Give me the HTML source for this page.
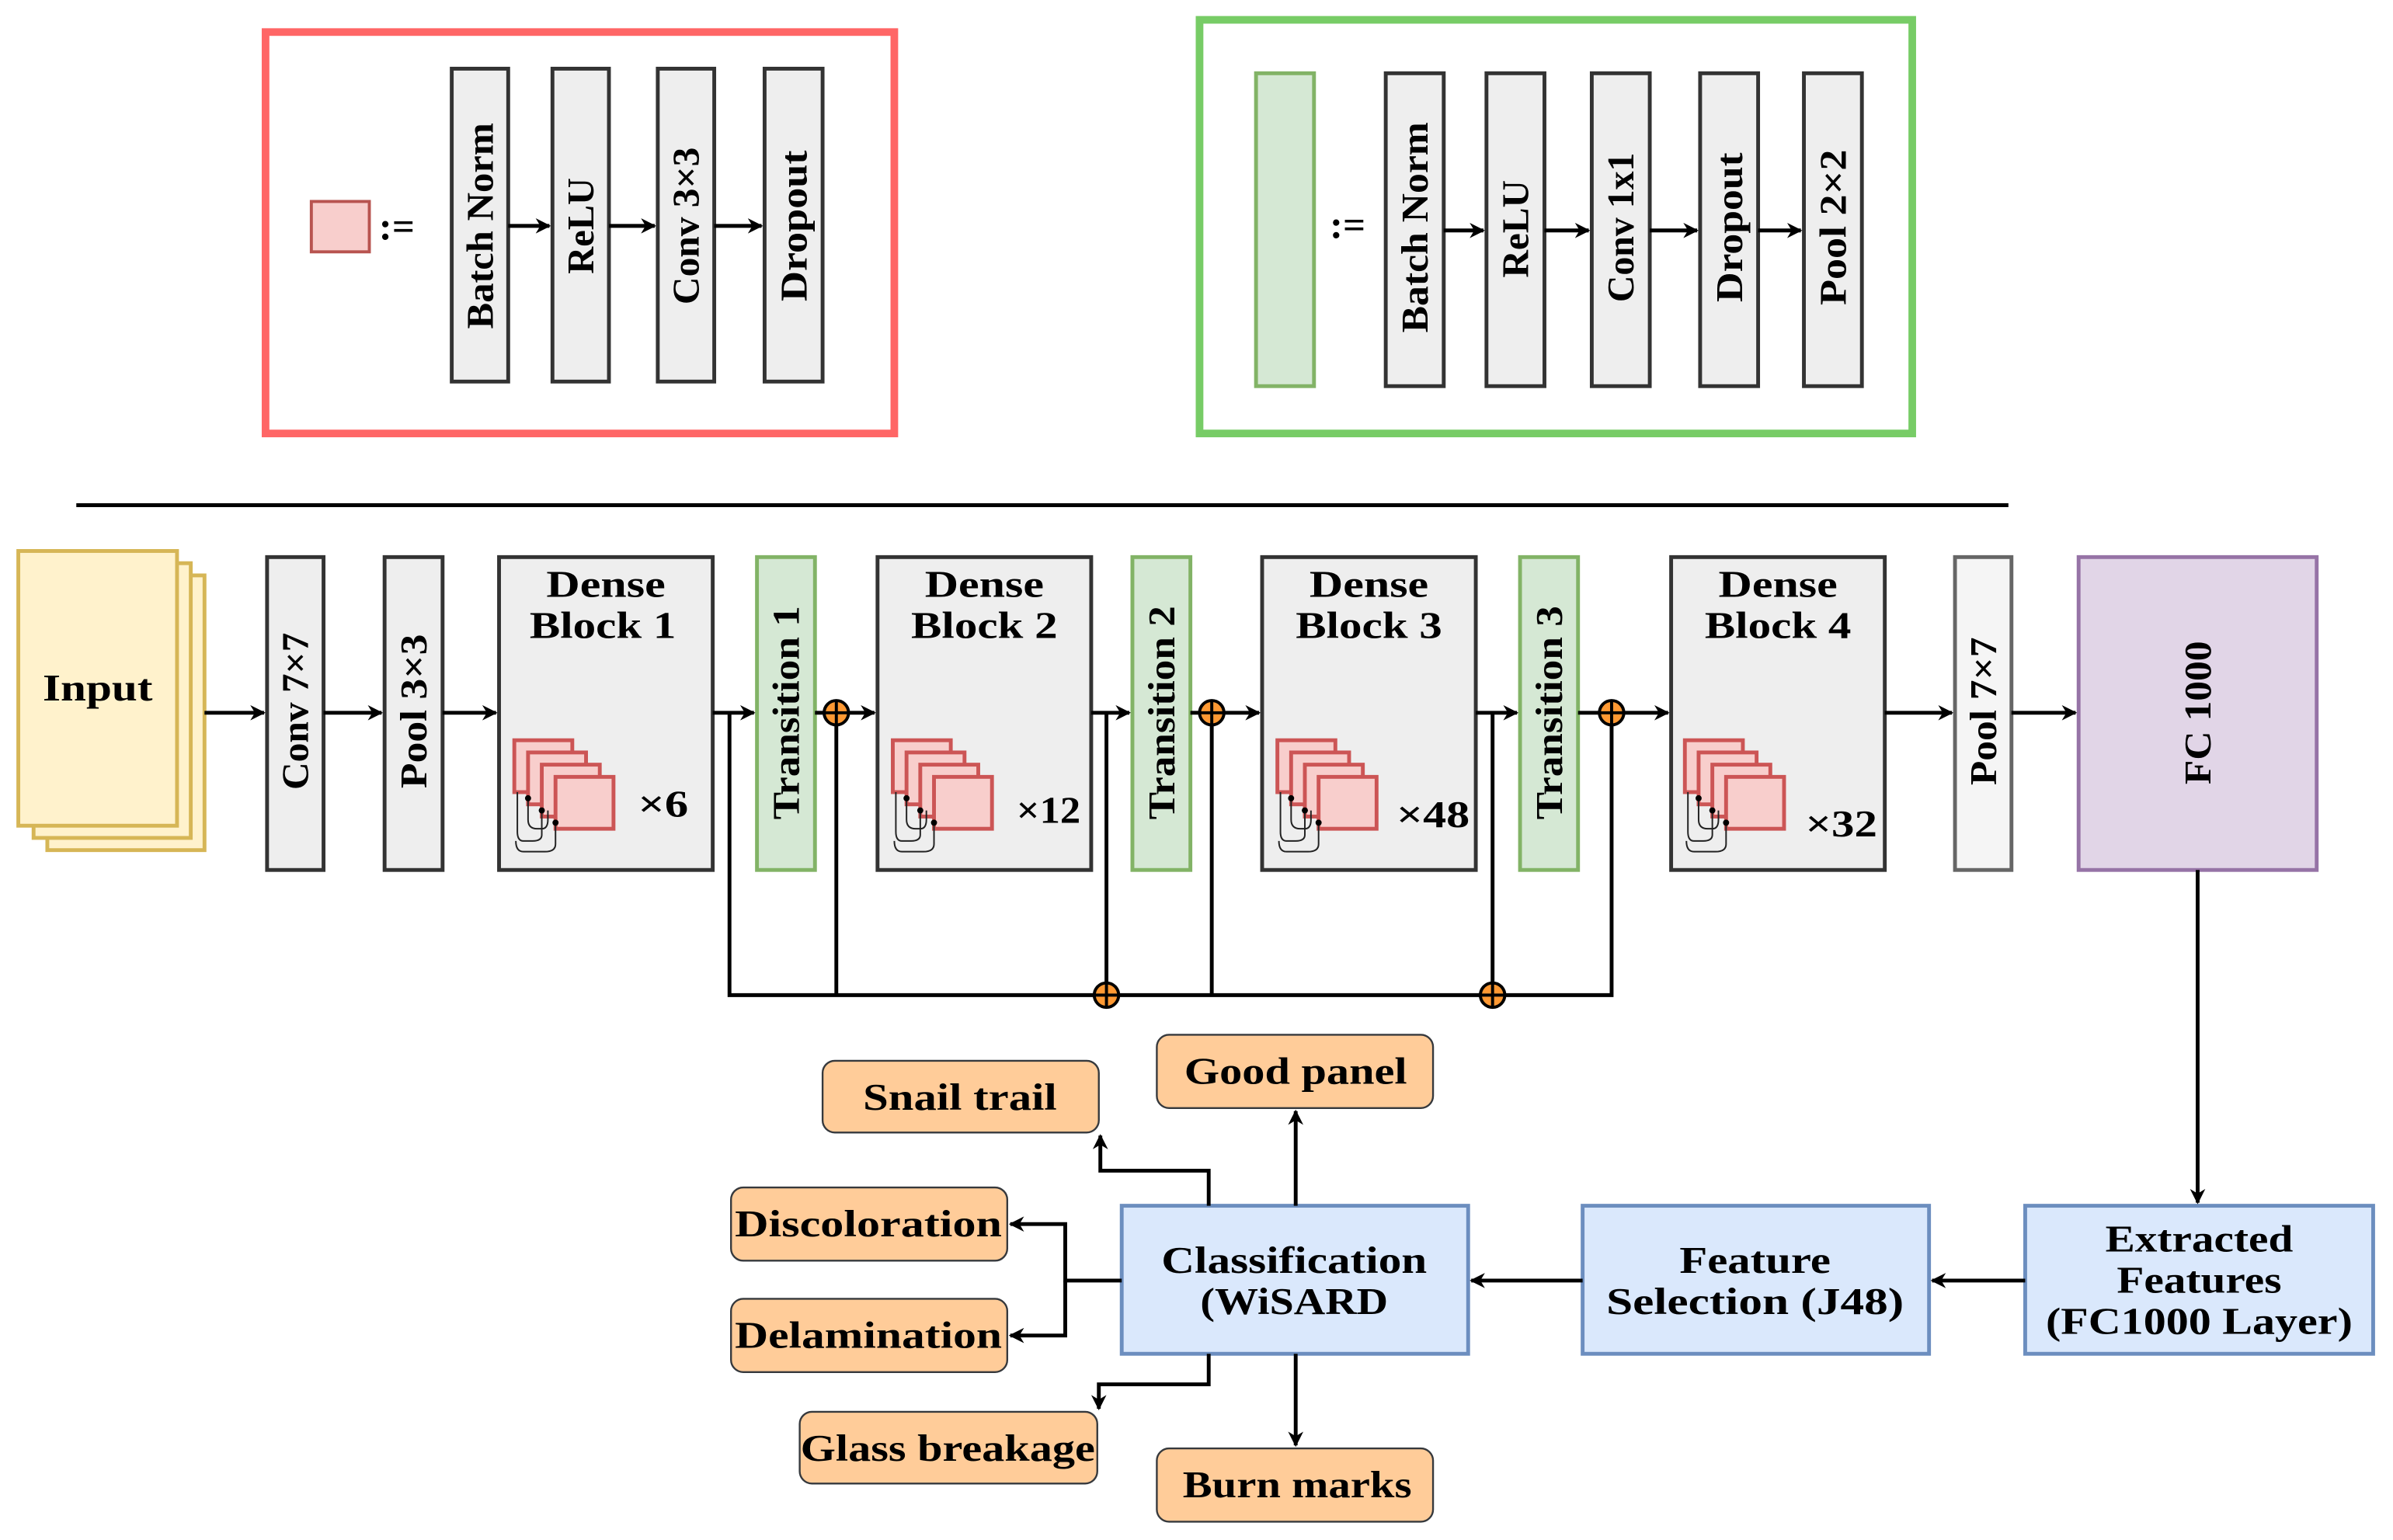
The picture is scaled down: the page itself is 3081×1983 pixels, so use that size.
<!DOCTYPE html>
<html><head><meta charset="utf-8"><style>
html,body{margin:0;padding:0;background:#fff;}
svg{display:block;}
text{font-family:"Liberation Serif",serif;font-weight:bold;fill:#000;}
</style></head><body>
<svg width="3081" height="1983" viewBox="0 0 1568 1009" preserveAspectRatio="none" xmlns="http://www.w3.org/2000/svg">
<defs>
<marker id="a" markerWidth="10" markerHeight="10" refX="9" refY="5" orient="auto" markerUnits="userSpaceOnUse"><path d="M0,0 L10,5 L0,10 L3,5 Z" fill="#000"/></marker>
<g id="plus"><circle r="8" fill="#ff9933" stroke="#000" stroke-width="2"/><path d="M-8,0H8M0,-8V8" stroke="#000" stroke-width="2"/></g>
<g id="stack">
<rect x="0" y="0" width="38" height="34" fill="#f8cecc" stroke="#cc5555" stroke-width="2.5"/>
<rect x="9" y="8" width="38" height="34" fill="#f8cecc" stroke="#cc5555" stroke-width="2.5"/>
<rect x="18" y="16" width="38" height="34" fill="#f8cecc" stroke="#cc5555" stroke-width="2.5"/>
<rect x="27" y="24" width="38" height="34" fill="#f8cecc" stroke="#cc5555" stroke-width="2.5"/>
<path d="M9,38 V52 Q9,58 15,58 H18 Q22,58 22,52 V46 M18,46 V62 Q18,66 12,66 H6 Q2,66 2,60 V34 M27,54 V68 Q27,73 20,73 H6 Q1,73 1,66" fill="none" stroke="#222" stroke-width="1"/>
<circle cx="9" cy="38" r="2" fill="#000"/><circle cx="18" cy="46" r="2" fill="#000"/><circle cx="27" cy="54" r="2" fill="#000"/>
</g>
</defs>
<g stroke-linejoin="miter">
<rect x="174" y="21" width="412" height="263" fill="none" stroke="#ff6666" stroke-width="5"/>
<rect x="204" y="132" width="38" height="33" fill="#f8cecc" stroke="#b85450" stroke-width="2"/>
<text x="260" y="157" font-size="26" text-anchor="middle">:=</text>
<g fill="#eeeeee" stroke="#333" stroke-width="2.5">
<rect x="296" y="45" width="37" height="205"/><rect x="362" y="45" width="37" height="205"/>
<rect x="431" y="45" width="37" height="205"/><rect x="501" y="45" width="38" height="205"/>
</g>
<g stroke="#000" stroke-width="2.5" marker-end="url(#a)">
<line x1="333" y1="148" x2="360" y2="148"/><line x1="399" y1="148" x2="429" y2="148"/><line x1="468" y1="148" x2="499" y2="148"/>
</g>
<g font-size="25" text-anchor="middle" dominant-baseline="central">
<text transform="translate(314.5,148) rotate(-90)" textLength="135" lengthAdjust="spacingAndGlyphs">Batch Norm</text>
<text transform="translate(380.5,148) rotate(-90)" textLength="63" lengthAdjust="spacingAndGlyphs">ReLU</text>
<text transform="translate(449.5,148) rotate(-90)" textLength="103" lengthAdjust="spacingAndGlyphs">Conv 3×3</text>
<text transform="translate(520,148) rotate(-90)" textLength="99" lengthAdjust="spacingAndGlyphs">Dropout</text>
</g>
<rect x="786" y="13" width="467" height="271" fill="none" stroke="#77cc66" stroke-width="5"/>
<rect x="823" y="48" width="38" height="205" fill="#d5e8d4" stroke="#82b366" stroke-width="2.5"/>
<text x="883" y="156" font-size="26" text-anchor="middle">:=</text>
<g fill="#eeeeee" stroke="#333" stroke-width="2.5">
<rect x="908" y="48" width="38" height="205"/><rect x="974" y="48" width="38" height="205"/>
<rect x="1043" y="48" width="38" height="205"/><rect x="1114" y="48" width="38" height="205"/>
<rect x="1182" y="48" width="38" height="205"/>
</g>
<g stroke="#000" stroke-width="2.5" marker-end="url(#a)">
<line x1="946" y1="151" x2="972" y2="151"/><line x1="1012" y1="151" x2="1041" y2="151"/>
<line x1="1081" y1="151" x2="1112" y2="151"/><line x1="1152" y1="151" x2="1180" y2="151"/>
</g>
<g font-size="25" text-anchor="middle" dominant-baseline="central">
<text transform="translate(927,149) rotate(-90)" textLength="138" lengthAdjust="spacingAndGlyphs">Batch Norm</text>
<text transform="translate(993,150) rotate(-90)" textLength="64" lengthAdjust="spacingAndGlyphs">ReLU</text>
<text transform="translate(1062,149) rotate(-90)" textLength="98" lengthAdjust="spacingAndGlyphs">Conv 1x1</text>
<text transform="translate(1133,149) rotate(-90)" textLength="98" lengthAdjust="spacingAndGlyphs">Dropout</text>
<text transform="translate(1201,149) rotate(-90)" textLength="102" lengthAdjust="spacingAndGlyphs">Pool 2×2</text>
</g>
<line x1="50" y1="331" x2="1316" y2="331" stroke="#000" stroke-width="2.5"/>

<g fill="#fff2cc" stroke="#d6b656" stroke-width="2.5">
<rect x="31" y="377" width="103" height="180"/><rect x="22" y="369" width="103" height="180"/><rect x="12" y="361" width="104" height="180"/>
</g>
<text x="64" y="459" font-size="25" text-anchor="middle" textLength="72" lengthAdjust="spacingAndGlyphs">Input</text>

<g fill="#eeeeee" stroke="#333" stroke-width="2.5">
<rect x="175" y="365" width="37" height="205"/><rect x="252" y="365" width="38" height="205"/>
<rect x="327" y="365" width="140" height="205"/><rect x="575" y="365" width="140" height="205"/>
<rect x="827" y="365" width="140" height="205"/><rect x="1095" y="365" width="140" height="205"/>
</g>
<g fill="#d5e8d4" stroke="#82b366" stroke-width="2.5">
<rect x="496" y="365" width="38" height="205"/><rect x="742" y="365" width="38" height="205"/><rect x="996" y="365" width="38" height="205"/>
</g>
<rect x="1281" y="365" width="37" height="205" fill="#f5f5f5" stroke="#666" stroke-width="2.5"/>
<rect x="1362" y="365" width="156" height="205" fill="#e1d5e7" stroke="#9673a6" stroke-width="2.5"/>

<g font-size="25" text-anchor="middle" dominant-baseline="central">
<text transform="translate(193.5,466) rotate(-90)" textLength="103" lengthAdjust="spacingAndGlyphs">Conv 7×7</text>
<text transform="translate(271,466) rotate(-90)" textLength="101" lengthAdjust="spacingAndGlyphs">Pool 3×3</text>
<text transform="translate(515,467) rotate(-90)" textLength="140" lengthAdjust="spacingAndGlyphs">Transition 1</text>
<text transform="translate(761,467) rotate(-90)" textLength="140" lengthAdjust="spacingAndGlyphs">Transition 2</text>
<text transform="translate(1015,467) rotate(-90)" textLength="140" lengthAdjust="spacingAndGlyphs">Transition 3</text>
<text transform="translate(1299.5,466) rotate(-90)" textLength="97" lengthAdjust="spacingAndGlyphs">Pool 7×7</text>
<text transform="translate(1440,467) rotate(-90)" textLength="94" lengthAdjust="spacingAndGlyphs">FC 1000</text>
</g>
<g font-size="25" text-anchor="middle">
<text x="397" y="391" textLength="78" lengthAdjust="spacingAndGlyphs">Dense</text><text x="395" y="418" textLength="96" lengthAdjust="spacingAndGlyphs">Block 1</text>
<text x="645" y="391" textLength="78" lengthAdjust="spacingAndGlyphs">Dense</text><text x="645" y="418" textLength="96" lengthAdjust="spacingAndGlyphs">Block 2</text>
<text x="897" y="391" textLength="78" lengthAdjust="spacingAndGlyphs">Dense</text><text x="897" y="418" textLength="96" lengthAdjust="spacingAndGlyphs">Block 3</text>
<text x="1165" y="391" textLength="78" lengthAdjust="spacingAndGlyphs">Dense</text><text x="1165" y="418" textLength="96" lengthAdjust="spacingAndGlyphs">Block 4</text>
</g>
<use href="#stack" x="337" y="485"/><use href="#stack" x="585" y="485"/><use href="#stack" x="837" y="485"/><use href="#stack" x="1104" y="485"/>
<g font-size="25">
<text x="418" y="535" textLength="33" lengthAdjust="spacingAndGlyphs">×6</text><text x="666" y="539" textLength="42" lengthAdjust="spacingAndGlyphs">×12</text><text x="915" y="542" textLength="48" lengthAdjust="spacingAndGlyphs">×48</text><text x="1183" y="548" textLength="47" lengthAdjust="spacingAndGlyphs">×32</text>
</g>

<g stroke="#000" stroke-width="2.5" fill="none">
<line x1="134" y1="467" x2="173" y2="467" marker-end="url(#a)"/>
<line x1="212" y1="467" x2="250" y2="467" marker-end="url(#a)"/>
<line x1="290" y1="467" x2="325" y2="467" marker-end="url(#a)"/>
<line x1="467" y1="467" x2="494" y2="467" marker-end="url(#a)"/>
<line x1="534" y1="467" x2="540" y2="467"/>
<line x1="556" y1="467" x2="573" y2="467" marker-end="url(#a)"/>
<line x1="715" y1="467" x2="740" y2="467" marker-end="url(#a)"/>
<line x1="780" y1="467" x2="786" y2="467"/>
<line x1="802" y1="467" x2="825" y2="467" marker-end="url(#a)"/>
<line x1="967" y1="467" x2="994" y2="467" marker-end="url(#a)"/>
<line x1="1034" y1="467" x2="1048" y2="467"/>
<line x1="1064" y1="467" x2="1093" y2="467" marker-end="url(#a)"/>
<line x1="1235" y1="467" x2="1279" y2="467" marker-end="url(#a)"/>
<line x1="1318" y1="467" x2="1360" y2="467" marker-end="url(#a)"/>
<path d="M478,467 V652 H1056 V475"/>
<line x1="548" y1="475" x2="548" y2="652"/>
<line x1="725" y1="467" x2="725" y2="644"/>
<line x1="794" y1="475" x2="794" y2="652"/>
<line x1="978" y1="467" x2="978" y2="644"/>
</g>
<use href="#plus" x="548" y="467"/><use href="#plus" x="794" y="467"/><use href="#plus" x="1056" y="467"/>
<use href="#plus" x="725" y="652"/><use href="#plus" x="978" y="652"/>

<g fill="#dae8fc" stroke="#6c8ebf" stroke-width="2.5">
<rect x="1327" y="790" width="228" height="97"/><rect x="1037" y="790" width="227" height="97"/><rect x="735" y="790" width="227" height="97"/>
</g>
<g font-size="25" text-anchor="middle">
<text x="1441" y="820" textLength="123" lengthAdjust="spacingAndGlyphs">Extracted</text><text x="1441" y="847" textLength="108" lengthAdjust="spacingAndGlyphs">Features</text><text x="1441" y="874" textLength="201" lengthAdjust="spacingAndGlyphs">(FC1000 Layer)</text>
<text x="1150" y="834" textLength="99" lengthAdjust="spacingAndGlyphs">Feature</text><text x="1150" y="861" textLength="195" lengthAdjust="spacingAndGlyphs">Selection (J48)</text>
<text x="848" y="834" textLength="174" lengthAdjust="spacingAndGlyphs">Classification</text><text x="848" y="861" textLength="123" lengthAdjust="spacingAndGlyphs">(WiSARD</text>
</g>
<g fill="#ffcc99" stroke="#36393d" stroke-width="1.2">
<rect x="758" y="678" width="181" height="48" rx="8"/>
<rect x="539" y="695" width="181" height="47" rx="8"/>
<rect x="479" y="778" width="181" height="48" rx="8"/>
<rect x="479" y="851" width="181" height="48" rx="8"/>
<rect x="524" y="925" width="195" height="47" rx="8"/>
<rect x="758" y="949" width="181" height="48" rx="8"/>
</g>
<g font-size="25" text-anchor="middle">
<text x="849" y="710" textLength="146" lengthAdjust="spacingAndGlyphs">Good panel</text>
<text x="629" y="727" textLength="127" lengthAdjust="spacingAndGlyphs">Snail trail</text>
<text x="569" y="810" textLength="175" lengthAdjust="spacingAndGlyphs">Discoloration</text>
<text x="569" y="883" textLength="175" lengthAdjust="spacingAndGlyphs">Delamination</text>
<text x="621" y="957" textLength="193" lengthAdjust="spacingAndGlyphs">Glass breakage</text>
<text x="850" y="981" textLength="150" lengthAdjust="spacingAndGlyphs">Burn marks</text>
</g>
<g stroke="#000" stroke-width="2.5" fill="none">
<line x1="1440" y1="570" x2="1440" y2="788" marker-end="url(#a)"/>
<line x1="1327" y1="839" x2="1266" y2="839" marker-end="url(#a)"/>
<line x1="1037" y1="839" x2="964" y2="839" marker-end="url(#a)"/>
<line x1="849" y1="790" x2="849" y2="728" marker-end="url(#a)"/>
<path d="M792,790 V767 H721 V744" marker-end="url(#a)"/>
<path d="M735,839 H698 V802 H662" marker-end="url(#a)"/>
<path d="M698,839 V875 H662" marker-end="url(#a)"/>
<path d="M792,887 V907 H720 V923" marker-end="url(#a)"/>
<line x1="849" y1="887" x2="849" y2="947" marker-end="url(#a)"/>
</g>
</g>
</svg>
</body></html>
